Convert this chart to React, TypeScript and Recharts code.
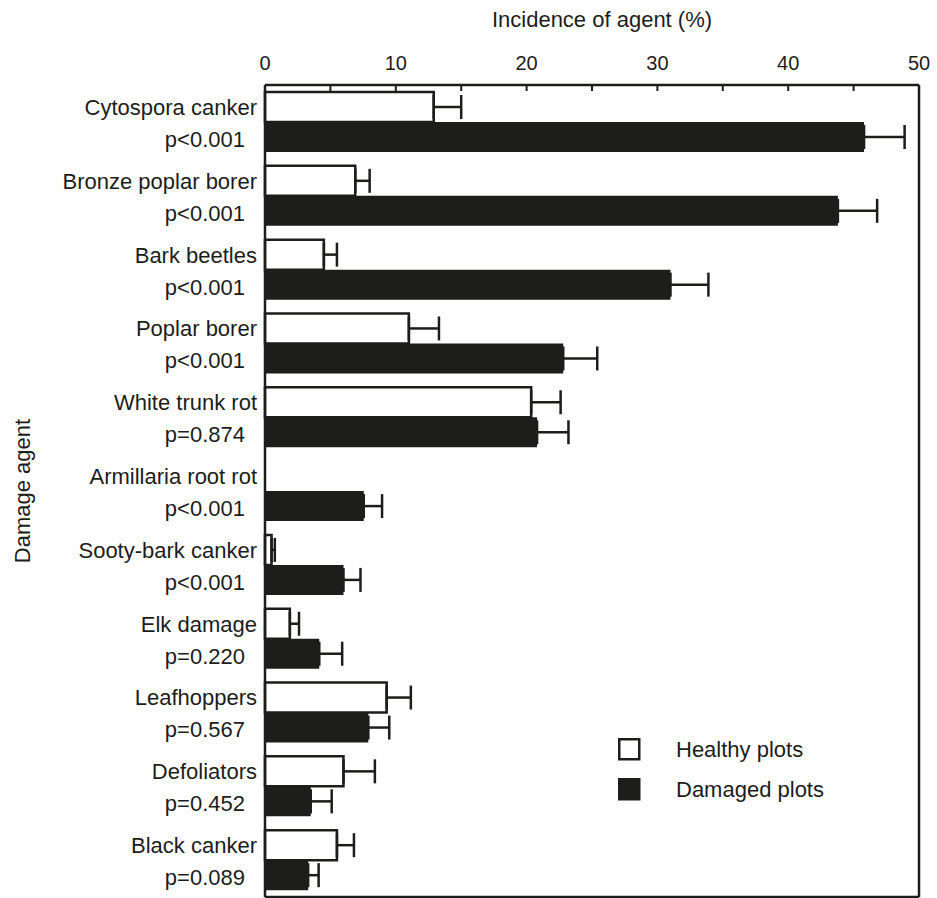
import { BarChart, Bar, XAxis, YAxis, ErrorBar, ReferenceLine, Legend } from 'recharts';

const agents = [
  'Cytospora canker',
  'Bronze poplar borer',
  'Bark beetles',
  'Poplar borer',
  'White trunk rot',
  'Armillaria root rot',
  'Sooty-bark canker',
  'Elk damage',
  'Leafhoppers',
  'Defoliators',
  'Black canker',
];
const pValues = ['p<0.001', 'p<0.001', 'p<0.001', 'p<0.001', 'p=0.874', 'p<0.001', 'p<0.001', 'p=0.220', 'p=0.567', 'p=0.452', 'p=0.089'];
const healthy = [12.9, 6.9, 4.5, 11.0, 20.35, 0, 0.5, 1.9, 9.3, 6.0, 5.5];
const healthyErr = [2.1, 1.1, 1.0, 2.3, 2.25, 0, 0.25, 0.7, 1.85, 2.4, 1.3];
const damaged = [45.8, 43.8, 31.0, 22.8, 20.8, 7.55, 6.0, 4.15, 7.9, 3.5, 3.3];
const damagedErr = [3.1, 3.0, 2.9, 2.6, 2.4, 1.4, 1.3, 1.75, 1.6, 1.6, 0.8];
const xTicks = [0, 5, 10, 15, 20, 25, 30, 35, 40, 45, 50];

const data = agents.map((agent, i) => ({
  agent,
  p: pValues[i],
  healthy: healthy[i],
  healthyErr: [0, healthyErr[i]],
  damaged: damaged[i],
  damagedErr: [0, damagedErr[i]],
}));

const INK = '#1d1d1b';
const FONT = '"Liberation Sans", Arial, sans-serif';
const W = 937;
const H = 898;
const TOP = 85;
const BOTTOM = 897;
const LEFT = 265;
const RIGHT = 919;
const TOP_AXIS_H = 40;
const BOTTOM_AXIS_H = 1;

function TopTick({ x, payload }: any) {
  const v = payload.value;
  return (
    <g>
      <line x1={x} x2={x} y1={TOP} y2={TOP + 6} stroke={INK} strokeWidth={2} />
      {v % 10 === 0 && (
        <text x={x} y={70} textAnchor="middle" fontSize={20} fontFamily={FONT} fill={INK}>
          {v}
        </text>
      )}
    </g>
  );
}

function BottomTick({ x }: any) {
  return <line x1={x} x2={x} y1={BOTTOM} y2={BOTTOM - 6} stroke={INK} strokeWidth={2} />;
}

function AgentTick({ y, payload }: any) {
  const row = data.find((d) => d.agent === payload.value);
  return (
    <g fontFamily={FONT} fontSize={22} fill={INK}>
      <text x={LEFT - 8} y={y - 7} textAnchor="end">{payload.value}</text>
      <text x={LEFT - 20} y={y + 25} textAnchor="end">{row ? row.p : ''}</text>
    </g>
  );
}

function LegendBox() {
  const items = [
    { label: 'Healthy plots', fill: '#fff' },
    { label: 'Damaged plots', fill: INK },
  ];
  return (
    <div style={{ fontFamily: FONT, fontSize: 22, color: INK }}>
      {items.map((it) => (
        <div key={it.label} style={{ display: 'flex', alignItems: 'center', height: 40 }}>
          <svg width={24} height={24} style={{ marginRight: 34 }}>
            <rect x={1.25} y={1.25} width={20} height={20} fill={it.fill} stroke={INK} strokeWidth={2.5} />
          </svg>
          <span>{it.label}</span>
        </div>
      ))}
    </div>
  );
}

export default function App() {
  return (
    <div style={{ position: 'absolute', left: 0, top: 0, width: W, height: H, background: '#fff' }}>
      <BarChart
        width={W}
        height={H}
        data={data}
        layout="vertical"
        margin={{ top: TOP - TOP_AXIS_H, right: W - RIGHT, bottom: H - BOTTOM - BOTTOM_AXIS_H, left: 0 }}
        barGap={0}
        barSize={30}
      >
        <XAxis
          xAxisId="top"
          type="number"
          orientation="top"
          domain={[0, 50]}
          ticks={xTicks}
          interval={0}
          height={TOP_AXIS_H}
          tickLine={false}
          tickSize={0}
          tickMargin={0}
          tick={<TopTick />}
          axisLine={{ stroke: INK, strokeWidth: 2.5 }}
        />
        <XAxis
          xAxisId="bottom"
          type="number"
          orientation="bottom"
          domain={[0, 50]}
          ticks={xTicks}
          interval={0}
          height={BOTTOM_AXIS_H}
          tickLine={false}
          tickSize={0}
          tickMargin={0}
          tick={<BottomTick />}
          axisLine={{ stroke: INK, strokeWidth: 2.5 }}
        />
        <YAxis
          type="category"
          dataKey="agent"
          width={LEFT}
          interval={0}
          tickLine={false}
          tickSize={0}
          tickMargin={0}
          tick={<AgentTick />}
          axisLine={{ stroke: INK, strokeWidth: 2.5 }}
        />
        <ReferenceLine xAxisId="top" x={50} stroke={INK} strokeWidth={2.5} />
        <Bar xAxisId="top" dataKey="healthy" name="Healthy plots" fill="#fff" stroke={INK} strokeWidth={2.5} isAnimationActive={false}>
          <ErrorBar dataKey="healthyErr" direction="x" width={12} stroke={INK} strokeWidth={2.5} isAnimationActive={false} />
        </Bar>
        <Bar xAxisId="top" dataKey="damaged" name="Damaged plots" fill={INK} isAnimationActive={false}>
          <ErrorBar dataKey="damagedErr" direction="x" width={12} stroke={INK} strokeWidth={2.5} isAnimationActive={false} />
        </Bar>
        <Legend
          layout="vertical"
          align="center"
          verticalAlign="middle"
          content={<LegendBox />}
          wrapperStyle={{ position: 'absolute', left: 618, top: 730, width: 260, height: 80 }}
        />
        <text x={602} y={27} textAnchor="middle" fontSize={22} fontFamily={FONT} fill={INK}>
          Incidence of agent (%)
        </text>
        <text
          x={30}
          y={491}
          textAnchor="middle"
          fontSize={22}
          fontFamily={FONT}
          fill={INK}
          transform="rotate(-90 30 491)"
        >
          Damage agent
        </text>
      </BarChart>
    </div>
  );
}
